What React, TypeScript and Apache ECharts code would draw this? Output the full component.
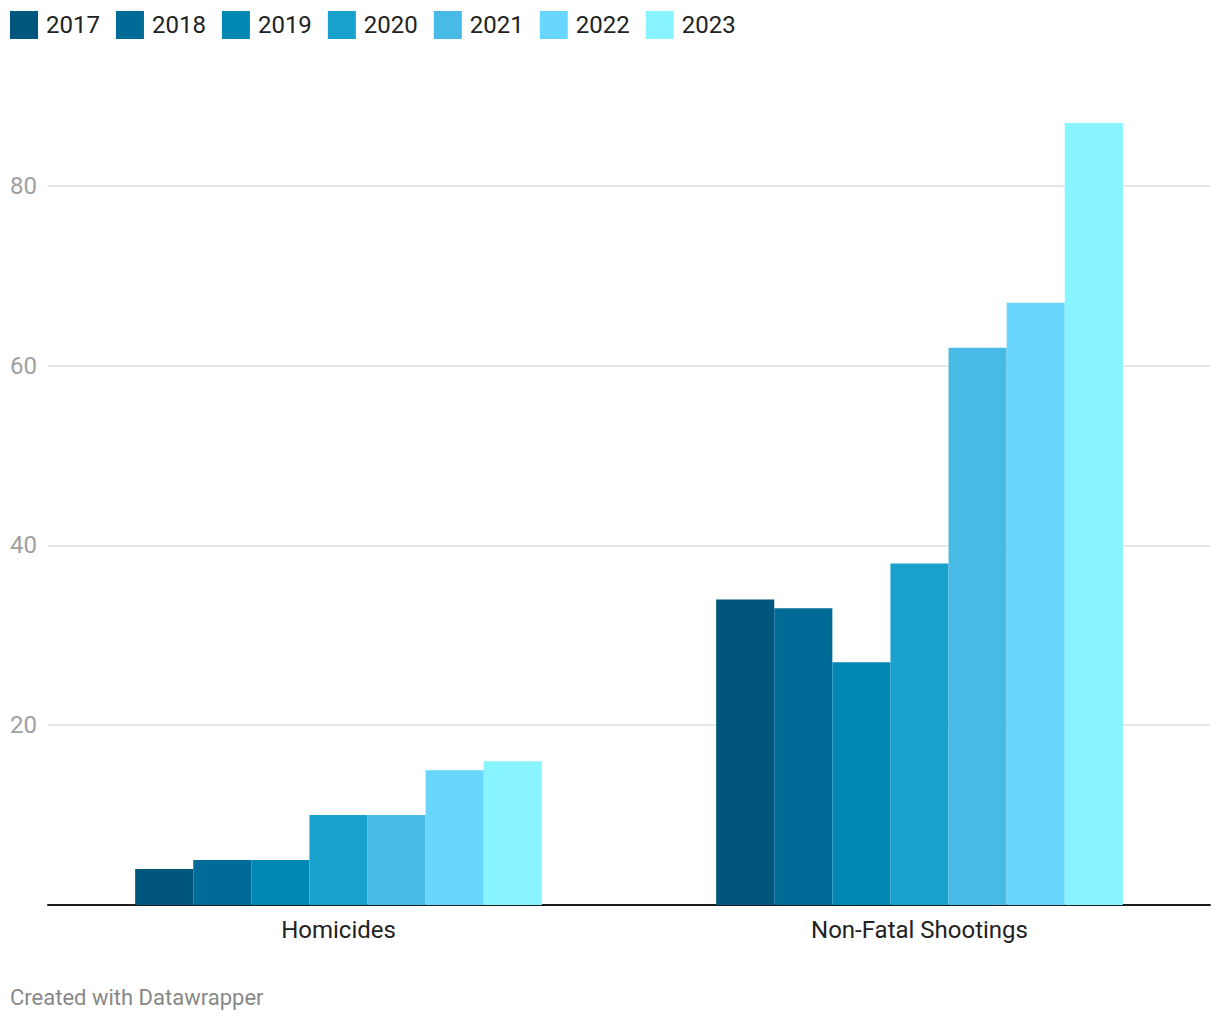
import React, { useEffect, useRef } from "react";
import * as echarts from "echarts";

const categories = ["Homicides", "Non-Fatal Shootings"];
const years = ["2017", "2018", "2019", "2020", "2021", "2022", "2023"];
const values2017 = [4, 34];
const values2018 = [5, 33];
const values2019 = [5, 27];
const values2020 = [10, 38];
const values2021 = [10, 62];
const values2022 = [15, 67];
const values2023 = [16, 87];
const seriesValues = [values2017, values2018, values2019, values2020, values2021, values2022, values2023];
const colors = ["#00567c", "#006b96", "#0087b3", "#19a1ce", "#47bbe6", "#69d7fd", "#88f4ff"];

export default function App() {
  const ref = useRef<HTMLDivElement>(null);
  useEffect(() => {
    if (!ref.current) return;
    const chart = echarts.init(ref.current, null, { renderer: "svg" });
    const font = "Roboto";
    chart.setOption({
      animation: false,
      backgroundColor: "#ffffff",
      textStyle: { fontFamily: font },
      legend: {
        left: 10,
        top: 11,
        padding: 0,
        itemWidth: 28,
        itemHeight: 28,
        itemGap: 16,
        icon: "rect",
        data: years,
        textStyle: { fontSize: 24, color: "#222222", fontFamily: font, padding: [0, 0, 0, 3] },
      },
      grid: { left: 48, right: 10, top: 96, bottom: 115, containLabel: false },
      xAxis: {
        type: "category",
        data: categories,
        axisLine: { show: true, lineStyle: { color: "#1d1d1d", width: 2 } },
        axisTick: { show: false },
        axisLabel: { color: "#222222", fontSize: 24, margin: 13, fontFamily: font },
      },
      yAxis: {
        type: "value",
        min: 0,
        max: 90,
        interval: 20,
        axisLine: { show: false },
        axisTick: { show: false },
        axisLabel: {
          color: "#a0a0a0",
          fontSize: 24,
          align: "left",
          margin: 38,
          fontFamily: font,
          showMaxLabel: false,
          showMinLabel: false,
        },
        splitLine: { show: true, showMinLine: false, showMaxLine: false, lineStyle: { color: "#e6e6e6", width: 2 } },
      },
      series: years.map((y, i) => ({
        name: y,
        type: "bar",
        data: seriesValues[i],
        itemStyle: { color: colors[i] },
        barGap: "0%",
        barCategoryGap: "30%",
      })),
      graphic: [
        {
          type: "text",
          left: 10,
          top: 986,
          style: { text: "Created with Datawrapper", fill: "#888888", fontSize: 22, fontFamily: font },
        },
      ],
    });
    return () => chart.dispose();
  }, []);
  return <div ref={ref} style={{ position: "fixed", left: 0, top: 0, width: 1220, height: 1020 }} />;
}
